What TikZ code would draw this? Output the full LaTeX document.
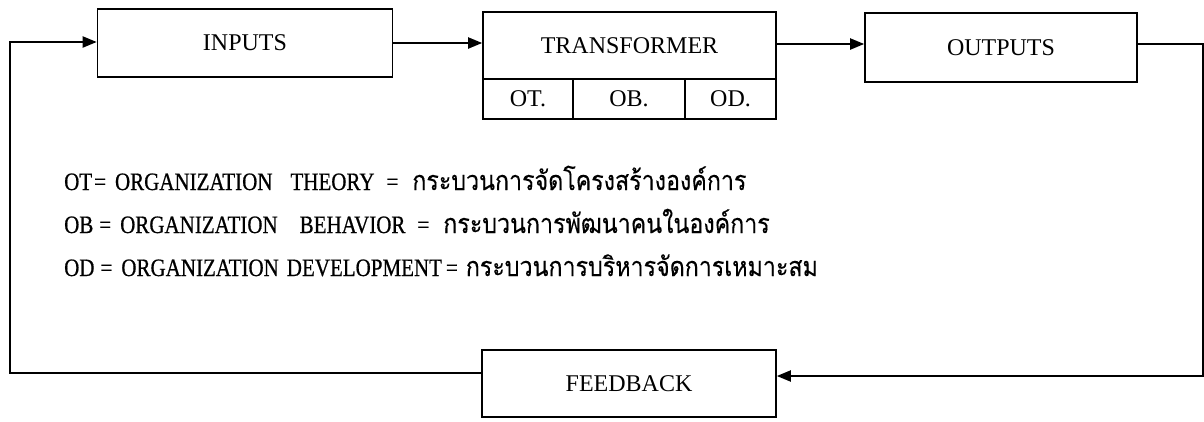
\documentclass[tikz,border=0pt]{standalone}
\usepackage{fontspec}
\setmainfont{Liberation Serif}
\newfontfamily\narrowserif{Liberation Serif}[FakeStretch=0.84,FakeBold=0.6]
\newfontfamily\thaifont{Loma}[Script=Thai,FakeStretch=0.86,FakeBold=0.3]
\newcommand{\thaitext}[1]{{\fontsize{27}{30}\thaifont #1}}
\newcommand{\gap}[1]{\hspace{#1pt}}
\usetikzlibrary{arrows.meta}
\tikzset{
  box/.style={draw, line width=1.6pt, inner sep=0pt, font=\fontsize{24}{28}\selectfont},
  cell/.style={box, minimum height=40pt},
  flow/.style={line width=2pt, -{Triangle[length=14pt,width=11pt]}},
  legend/.style={anchor=base west, inner sep=0pt, font=\fontsize{25}{29}\narrowserif}
}
\begin{document}
\begin{tikzpicture}[x=1pt,y=-1pt]
        \useasboundingbox (0,0) rectangle (1204,421);
        % boxes
        \node[box, minimum width=295pt, minimum height=68pt] (inputs) at (245,43) {INPUTS};
        \node[box, minimum width=293pt, minimum height=67pt] (transformer) at (629.5,45.5) {TRANSFORMER};
        \node[cell, minimum width=90pt] (ot) at (528,99) {OT.};
        \node[cell, minimum width=112pt] (ob) at (629,99) {OB.};
        \node[cell, minimum width=91pt] (od) at (730.5,99) {OD.};
        \node[box, minimum width=272pt, minimum height=69pt] (outputs) at (1001,47.5) {OUTPUTS};
        \node[box, minimum width=294pt, minimum height=67pt] (feedback) at (629,383.5) {FEEDBACK};
        % legend
        \node[legend] (lot) at (64,190) {OT\gap{2}=\gap{9}ORGANIZATION\gap{18}THEORY\gap{12}=\gap{14}\thaitext{กระบวนการจัดโครงสร้างองค์การ}};
        \node[legend] (lob) at (64,233) {OB\gap{6}=\gap{9}ORGANIZATION\gap{22}BEHAVIOR\gap{12}=\gap{14}\thaitext{กระบวนการพัฒนาคนในองค์การ}};
        \node[legend] (lod) at (64,276) {OD\gap{6}=\gap{9}ORGANIZATION\gap{8}DEVELOPMENT\gap{4}=\gap{8}\thaitext{กระบวนการบริหารจัดการเหมาะสม}};
        % loop
        \coordinate (lc) at (10,373);
        \coordinate (rc) at (1203,376);
        \draw[flow] (inputs.east) -- (transformer.west |- inputs.east);
        \draw[flow] (transformer.east |- 0,44) -- (outputs.west |- 0,44);
        \draw[flow] (outputs.east |- 0,44) -| (rc) -- (feedback.east |- rc);
        \draw[flow] (feedback.west |- lc) -- (lc) |- (inputs.west |- 0,42);
    \end{tikzpicture}
\end{document}
